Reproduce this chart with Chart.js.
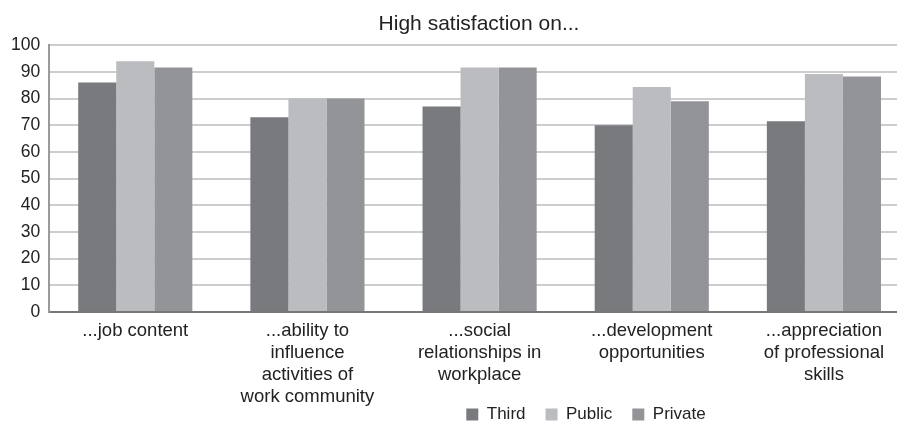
<!DOCTYPE html>
<html>
<head>
<meta charset="utf-8">
<script src="https://cdn.jsdelivr.net/npm/chart.js@4/dist/chart.umd.min.js"></script>
<style>
  body { margin: 0; background: #fff; }
  #wrap { width: 897px; height: 421px; overflow: hidden; }
</style>
</head>
<body>
<div id="wrap">
  <canvas id="myChart" width="912" height="421"></canvas>
</div>
<script>
const labels = [
  ["...job content"],
  ["...ability to", "influence", "activities of", "work community"],
  ["...social", "relationships in", "workplace"],
  ["...development", "opportunities"],
  ["...appreciation", "of professional", "skills"]
];
const thirdScores = [86, 73, 77, 70, 71.5];
const publicScores = [94, 80, 91.6, 84.3, 89.2];
const privateScores = [91.6, 80, 91.6, 79, 88.3];
const yTicks = [0, 10, 20, 30, 40, 50, 60, 70, 80, 90, 100];

const FONT = "'Liberation Sans', Arial, sans-serif";

// tighter legend block, title centred over the plot, legend right of centre
const placeBlocks = {
  id: "placeBlocks",
  beforeLayout(chart) {
    const lg = chart.legend;
    if (lg && !lg._shortFit) {
      const fit = lg.fit;
      lg.fit = function () {
        fit.call(this);
        this.height -= 42;
      };
      lg._shortFit = true;
    }
  },
  afterLayout(chart) {
    chart.legend.left += 130;
    chart.legend.right += 130;
    chart.legend.top -= 30;
    chart.titleBlock.left += 23;
    chart.titleBlock.right += 23;
  }
};

const map = document.getElementById("myChart");
const myChart = new Chart(map, {
  type: "bar",
  data: {
    labels: labels,
    datasets: [
      { label: "Third", data: thirdScores, backgroundColor: "#797a7e" },
      { label: "Public", data: publicScores, backgroundColor: "#bbbcbf" },
      { label: "Private", data: privateScores, backgroundColor: "#939497" }
    ]
  },
  options: {
    responsive: false,
    animation: false,
    datasets: {
      bar: { barPercentage: 1, categoryPercentage: 0.663, borderWidth: 0 }
    },
    layout: { padding: { left: 2, right: 2, top: 0, bottom: 0 } },
    plugins: {
      title: {
        display: true,
        text: "High satisfaction on...",
        color: "#222",
        font: { family: FONT, size: 21, weight: "normal" },
        padding: { top: 12, bottom: 8 }
      },
      legend: {
        position: "bottom",
        labels: {
          color: "#222",
          font: { family: FONT, size: 17 },
          boxWidth: 12,
          boxHeight: 12,
          padding: 20
        }
      },
      tooltip: { enabled: false }
    },
    scales: {
      x: {
        grid: { display: false, drawTicks: false },
        border: { display: true, color: "#777", width: 2 },
        ticks: {
          color: "#222",
          font: { family: FONT, size: 18.5, lineHeight: 1.19 },
          padding: 8,
          maxRotation: 0,
          autoSkip: false
        }
      },
      y: {
        min: 0,
        max: 100,
        afterBuildTicks(axis) {
          axis.ticks = yTicks.map(v => ({ value: v }));
        },
        grid: { color: "#cdcdcd", lineWidth: 2, drawTicks: false },
        border: { display: true, color: "#9a9a9a", width: 2 },
        ticks: {
          color: "#222",
          font: { family: FONT, size: 17.5 },
          padding: 9,
          autoSkip: false
        }
      }
    }
  },
  plugins: [placeBlocks]
});
</script>
</body>
</html>
